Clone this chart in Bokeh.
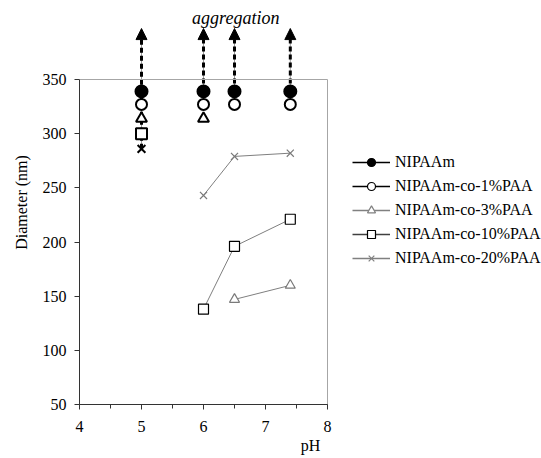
from bokeh.plotting import figure
from bokeh.models import (ColumnDataSource, Legend, LegendItem, SingleIntervalTicker,
                          Arrow, NormalHead, Label)
from bokeh.embed import file_html
from bokeh.resources import INLINE

# ---- data ----
ph = [5, 6, 6.5, 7.4]
series_names = ["NIPAAm", "NIPAAm-co-1%PAA", "NIPAAm-co-3%PAA",
                "NIPAAm-co-10%PAA", "NIPAAm-co-20%PAA"]
nipaam = [339, 339, 339, 339]
paa1 = [327, 327, 327, 327]
paa3 = [314, 314, 147, 160]
paa10 = [300, 138, 196, 221]
paa20 = [286, 243, 279, 282]
# number of leading (aggregated) points per series
n_aggregated = [4, 4, 2, 1, 1]
arrow_ph = [5, 6, 6.5, 7.4]
arrow_start = [286, 339, 339, 339]
arrow_end = [397, 397, 397, 397]
x_ticks = [4, 5, 6, 7, 8]
y_ticks = [50, 100, 150, 200, 250, 300, 350]

values = [nipaam, paa1, paa3, paa10, paa20]
markers = ["circle", "circle", "triangle", "square", "x"]
fills = ["black", "white", "white", "white", None]
disp_color = ["black", "black", "#7a7a7a", "black", "#7a7a7a"]
legend_line = ["black", "black", "#808080", "#404040", "#808080"]
legend_mark = ["black", "black", "#808080", "black", "#808080"]

FONT = "'Liberation Serif', 'Times New Roman', serif"
XMIN, XMAX = x_ticks[0], x_ticks[-1]
YMIN, YMAX = y_ticks[0], y_ticks[-1]
px_per_x = 62.0
px_per_y = 325.0 / 300.0
frame_w = 462
frame_h = 404

p = figure(output_backend="svg", toolbar_location=None,
           frame_width=frame_w, frame_height=frame_h,
           x_range=(XMIN, XMIN + frame_w / px_per_x),
           y_range=(YMIN, YMIN + frame_h / px_per_y),
           min_border_left=79, min_border_right=0, min_border_top=0,
           min_border_bottom=50)
p.outline_line_color = None
p.grid.visible = False
p.background_fill_color = "white"
p.border_fill_color = "white"

# axes
xa = p.xaxis[0]
xa.ticker = SingleIntervalTicker(interval=1, num_minor_ticks=2)
xa.bounds = (XMIN, XMAX)
xa.axis_label = "pH"
ya = p.yaxis[0]
ya.ticker = SingleIntervalTicker(interval=50, num_minor_ticks=0)
ya.bounds = (YMIN, YMAX)
ya.axis_label = "Diameter (nm)"
for ax in (xa, ya):
    ax.axis_label_text_font = FONT
    ax.axis_label_text_font_size = "16px"
    ax.axis_label_text_font_style = "normal"
    ax.axis_label_text_color = "black"
    ax.major_label_text_font = FONT
    ax.major_label_text_font_size = "16px"
    ax.major_label_text_color = "black"
    ax.axis_line_color = "#333333"
    ax.major_tick_line_color = "#333333"
    ax.minor_tick_line_color = "#333333"
    ax.major_tick_out = 5
    ax.major_tick_in = 0
ya.minor_tick_line_color = None
xa.minor_tick_in = 0
xa.minor_tick_out = 4
xa.major_label_standoff = 11
xa.axis_label_standoff = 2
ya.major_label_standoff = 8
ya.axis_label_standoff = 10

# frame top and right border lines (gray)
p.segment(x0=[XMIN, XMAX], y0=[YMAX, YMIN], x1=[XMAX, XMAX], y1=[YMAX, YMAX],
          line_color="#a6a6a6", line_width=1)

# aggregation arrows
arr_src = ColumnDataSource(dict(x0=arrow_ph, y0=arrow_start, x1=arrow_ph, y1=arrow_end))
p.add_layout(Arrow(end=None, source=arr_src, x_start="x0", y_start="y0",
                   x_end="x1", y_end="y1", line_color="#9a9a9a", line_width=1,
                   level="underlay"))
head = NormalHead(size=11, fill_color="black", line_color="black", line_width=1)
p.add_layout(Arrow(end=head, source=arr_src, x_start="x0", y_start="y0",
                   x_end="x1", y_end="y1", line_color="black", line_width=3,
                   line_dash="5 3", level="underlay"))

p.add_layout(Label(x=6.52, y=407, text="aggregation", text_font=FONT,
                   text_font_style="italic", text_font_size="18px",
                   text_color="black",
                   text_align="center", text_baseline="middle"))

items = []
for i, name in enumerate(series_names):
    vals = values[i]
    k = n_aggregated[i]
    # aggregated points: markers only, bold black
    agg = ColumnDataSource(dict(x=ph[:k], y=vals[:k]))
    # dispersed points: line + markers
    disp = ColumnDataSource(dict(x=ph[k:], y=vals[k:]))
    p.line("x", "y", source=disp, line_color="#7f7f7f", line_width=1)
    size_agg = 12 if fills[i] == "black" else 11
    p.scatter("x", "y", source=agg, marker=markers[i], size=size_agg,
              line_color="black", line_width=2, fill_color=fills[i])
    p.scatter("x", "y", source=disp, marker=markers[i], size=10,
              line_color=disp_color[i], line_width=1.2, fill_color=fills[i])
    # legend-only renderers (one NaN point, nothing drawn in the plot)
    nan_src = ColumnDataSource(dict(x=[float("nan")], y=[float("nan")]))
    lr = p.line("x", "y", source=nan_src, line_color=legend_line[i], line_width=1.3)
    sr = p.scatter("x", "y", source=nan_src, marker=markers[i], size=8,
                   line_color=legend_mark[i], line_width=1.2, fill_color=fills[i])
    items.append(LegendItem(label=name, renderers=[lr, sr]))

legend = Legend(items=items, location=(273, 136), padding=0, spacing=4,
                glyph_width=38, glyph_height=20, label_height=20,
                label_standoff=5, label_text_font=FONT,
                label_text_font_size="16px", label_text_color="black",
                border_line_color=None, background_fill_alpha=0)
p.add_layout(legend)

open("out.html", "w").write(file_html(p, INLINE))
